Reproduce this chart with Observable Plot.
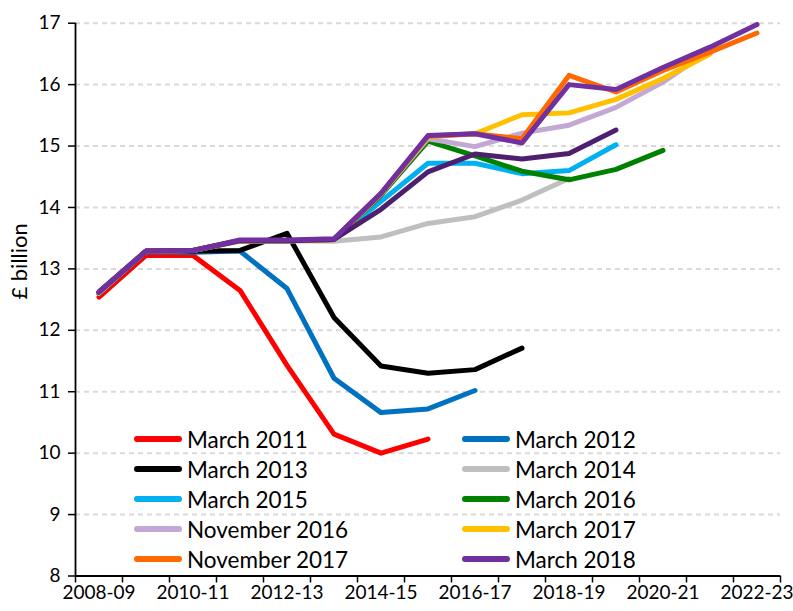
<!DOCTYPE html>
<html>
<head>
<meta charset="utf-8">
<script src="https://cdn.jsdelivr.net/npm/d3@7"></script>
<script src="https://cdn.jsdelivr.net/npm/@observablehq/plot@0.6"></script>
<style>
  html, body { margin: 0; padding: 0; background: #fff; }
  #wrap { position: relative; width: 793px; height: 611px; font-family: Lato, "Liberation Sans", sans-serif; }
  #legend { position: absolute; left: 0; top: 0; width: 793px; height: 611px; pointer-events: none; }
  .item { position: absolute; display: flex; align-items: center; height: 30px; font-size: 22.5px; color: #000; white-space: nowrap; }
  .sw { display: inline-block; width: 48px; height: 6px; border-radius: 3px; margin-right: 5px; }
</style>
</head>
<body>
<div id="wrap"><div id="chart"></div><div id="legend"></div></div>
<script>
// Fiscal years (x categories)
const categories = ["2008-09","2009-10","2010-11","2011-12","2012-13","2013-14","2014-15","2015-16","2016-17","2017-18","2018-19","2019-20","2020-21","2021-22","2022-23"];
const xTickLabels = ["2008-09","2010-11","2012-13","2014-15","2016-17","2018-19","2020-21","2022-23"];
const yTicks = [8, 9, 10, 11, 12, 13, 14, 15, 16, 17];
const yLabel = "£ billion";

// Forecast vintages (£ billion), one value per fiscal year
const march2011    = [12.54, 13.22, 13.22, 12.65, 11.43, 10.31, 10.00, 10.23];
const march2012    = [12.60, 13.28, 13.27, 13.29, 12.68, 11.22, 10.66, 10.72, 11.02];
const march2013    = [12.60, 13.29, 13.29, 13.30, 13.58, 12.21, 11.42, 11.30, 11.36, 11.71];
const march2014    = [12.60, 13.29, 13.30, 13.45, 13.46, 13.45, 13.52, 13.74, 13.85, 14.12, 14.47];
const march2015    = [12.62, 13.29, 13.30, 13.46, 13.46, 13.48, 14.10, 14.72, 14.72, 14.55, 14.60, 15.02];
const march2016    = [12.62, 13.29, 13.30, 13.46, 13.46, 13.48, 14.20, 15.08, 14.84, 14.59, 14.45, 14.62, 14.93];
const november2016 = [12.62, 13.29, 13.30, 13.46, 13.46, 13.48, 14.22, 15.12, 14.99, 15.21, 15.34, 15.63, 16.04, 16.56];
const march2017    = [12.62, 13.29, 13.30, 13.46, 13.46, 13.48, 14.22, 15.15, 15.20, 15.51, 15.54, 15.76, 16.10, 16.50];
const november2017 = [12.62, 13.29, 13.30, 13.46, 13.46, 13.48, 14.23, 15.16, 15.20, 15.12, 16.15, 15.88, 16.23, 16.53, 16.84];
const unlabelled   = [12.62, 13.29, 13.30, 13.46, 13.46, 13.48, 13.97, 14.58, 14.87, 14.79, 14.88, 15.26];
const march2018    = [12.63, 13.29, 13.30, 13.47, 13.47, 13.49, 14.23, 15.17, 15.20, 15.05, 16.00, 15.92, 16.28, 16.61, 16.98];

const seriesNames  = ["March 2011","March 2012","March 2013","March 2014","March 2015","March 2016","November 2016","March 2017","November 2017","(unlabelled)","March 2018"];
const seriesValues = [march2011, march2012, march2013, march2014, march2015, march2016, november2016, march2017, november2017, unlabelled, march2018];
const seriesColors = ["#ff0000","#0070c0","#000000","#bfbfbf","#00b0f0","#008000","#c3a8d5","#ffc000","#ff6a00","#4e1f6e","#7030a0"];
const legendOrder  = ["March 2011","March 2012","March 2013","March 2014","March 2015","March 2016","November 2016","March 2017","November 2017","March 2018"];

const rows = [];
seriesNames.forEach((name, s) => {
  seriesValues[s].forEach((v, i) => { if (v != null) rows.push({series: name, i, value: v}); });
});

const boundaries = d3.range(categories.length + 1).map(i => i - 0.5);
const labelIdx = xTickLabels.map(l => categories.indexOf(l));

const chart = Plot.plot({
  width: 793,
  height: 611,
  marginTop: 22.7,
  marginBottom: 35.5,
  marginLeft: 75,
  marginRight: 13,
  style: {fontFamily: "Lato, 'Liberation Sans', sans-serif", fontSize: "19px", color: "#000", background: "#fff"},
  x: {type: "linear", domain: [-0.5, categories.length - 0.5]},
  y: {domain: [yTicks[0], yTicks[yTicks.length - 1]]},
  color: {domain: seriesNames, range: seriesColors},
  marks: [
    Plot.gridY({ticks: yTicks.slice(1), stroke: "#d9d9d9", strokeOpacity: 1, strokeWidth: 2, strokeDasharray: "5,4"}),
    Plot.axisY({ticks: yTicks, tickSize: 7, tickPadding: 8, tickFormat: d => String(d), label: null, fontSize: 19, strokeWidth: 1.5}),
    Plot.axisX({ticks: boundaries, tickSize: 7, tickFormat: () => "", label: null, strokeWidth: 1.5}),
    Plot.axisX({ticks: labelIdx, tickSize: 0, tickPadding: 9, tickFormat: i => categories[i], label: null, fontSize: 19}),
    Plot.ruleX([boundaries[0]], {stroke: "#000", strokeWidth: 1.8}),
    Plot.ruleY([yTicks[0]], {stroke: "#000", strokeWidth: 1.8}),
    Plot.text([yLabel], {frameAnchor: "left", rotate: -90, dx: -56, fontSize: 22, fill: "#000"}),
    Plot.line(rows, {x: "i", y: "value", z: "series", stroke: "series", strokeWidth: 5, strokeLinecap: "round", strokeLinejoin: "round"})
  ]
});
document.getElementById("chart").appendChild(chart);

// Legend (two columns, inside plot area)
const legend = document.getElementById("legend");
const colX = [134, 462];
const rowY = [439, 469, 499, 529, 559];
legendOrder.forEach((name, k) => {
  const col = k % 2, row = Math.floor(k / 2);
  const div = document.createElement("div");
  div.className = "item";
  div.style.left = colX[col] + "px";
  div.style.top = (rowY[row] - 15) + "px";
  const sw = document.createElement("span");
  sw.className = "sw";
  sw.style.background = seriesColors[seriesNames.indexOf(name)];
  const tx = document.createElement("span");
  tx.textContent = name;
  div.appendChild(sw); div.appendChild(tx);
  legend.appendChild(div);
});
</script>
</body>
</html>
